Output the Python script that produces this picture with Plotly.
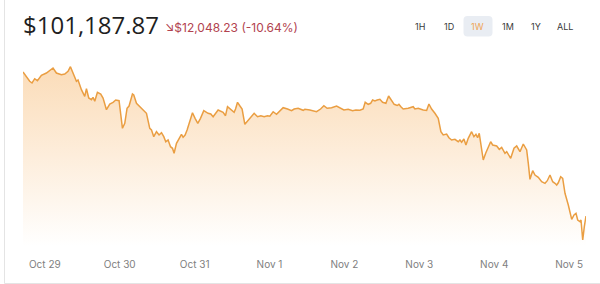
import plotly.graph_objects as go
import pandas as pd

# ---- data ----
hours_from_oct29 = [
    -6.99, -4.84, -4.10, -3.24, -2.37, -1.09, 0.51, 1.57, 2.63, 3.72,
    5.32, 6.38, 7.44, 8.21, 9.04, 10.13, 10.64, 11.73, 12.79, 13.34,
    14.07, 14.94, 15.45, 16.00, 16.86, 17.92, 18.66, 19.75, 20.81, 21.86,
    22.73, 23.79, 24.88, 25.62, 26.35, 26.99, 28.08, 28.50, 29.37, 30.43,
    31.48, 32.57, 33.63, 34.18, 34.91, 35.78, 36.61, 37.38, 38.12, 38.76,
    39.50, 40.27, 40.91, 41.42, 42.19, 43.02, 43.79, 44.31, 44.95, 45.59,
    46.45, 47.32, 48.15, 49.02, 49.88, 50.94, 52.32, 53.18, 53.93, 55.53,
    57.13, 57.90, 58.54, 59.82, 60.66, 61.11, 61.75, 62.48, 63.22, 64.09,
    65.15, 66.24, 67.07, 68.16, 69.22, 70.28, 71.37, 72.10, 73.16, 74.25,
    75.31, 76.37, 77.78, 79.06, 79.89, 81.17, 82.78, 83.32, 84.93, 87.07,
    88.36, 89.41, 90.47, 91.88, 93.49, 94.54, 95.83, 97.21, 98.62, 99.67,
    100.96, 102.01, 102.66, 103.62, 104.39, 105.03, 105.77, 106.50, 107.37, 108.23,
    109.29, 110.16, 111.12, 111.95, 112.91, 113.46, 114.10, 114.84, 116.44, 118.04,
    118.59, 119.65, 121.25, 122.34, 123.08, 123.94, 125.00, 126.06, 126.92, 127.66,
    128.75, 129.49, 130.35, 131.41, 132.47, 133.01, 133.56, 134.29, 134.94, 135.67,
    136.76, 137.50, 138.14, 138.69, 139.20, 139.97, 140.49, 141.26, 142.09, 142.86,
    143.50, 144.79, 145.62, 146.39, 147.45, 148.00, 149.28, 150.34, 151.20, 152.26,
    153.31, 154.40, 154.92, 155.46, 156.33, 157.06, 158.12, 159.21, 160.27, 161.01,
    161.87, 162.74, 163.47, 164.02, 164.53, 165.30, 165.94, 166.68, 167.74, 168.83,
    169.57, 170.21, 170.75, 171.49, 171.81, 172.36, 172.87, 173.41,
]
prices = [
    113236, 112458, 112316, 112675, 112508, 112960, 113152, 113345, 113571, 113152,
    113010, 113069, 113295, 113679, 113152, 112458, 112567, 111755, 111203, 111839,
    111061, 110918, 111119, 110784, 111537, 111395, 111061, 110082, 110559, 110701,
    110893, 110835, 108525, 108944, 110199, 110391, 111395, 111312, 110617, 110333,
    110115, 109780, 108525, 108383, 107823, 108241, 107965, 108157, 107823, 107404,
    107546, 106986, 106852, 106434, 107270, 107689, 108023, 107772, 107965, 108383,
    109220, 109831, 109362, 108944, 109362, 109998, 109780, 109722, 109496, 110057,
    109864, 109580, 110333, 110057, 109864, 110140, 110701, 110416, 110140, 108860,
    109220, 109496, 109780, 109496, 109580, 109496, 109580, 109538, 109914, 109697,
    109973, 110249, 110140, 109998, 110140, 110199, 110031, 110115, 110057, 109914,
    110140, 110416, 110199, 110249, 110391, 110249, 110057, 110115, 109998, 110057,
    110031, 110140, 110701, 110533, 110617, 110893, 110810, 110893, 110952, 110701,
    110617, 111228, 110810, 110533, 110433, 110533, 110333, 110140, 110199, 110333,
    110140, 110199, 110057, 110015, 110559, 110140, 109780, 109362, 108241, 107965,
    108048, 107739, 107546, 107605, 107404, 107546, 107354, 107630, 107128, 107689,
    108241, 107823, 108023, 107739, 108107, 106710, 105873, 106434, 106986, 107404,
    107128, 107044, 106768, 106935, 106434, 106567, 106015, 106852, 107044, 106567,
    107212, 106710, 105597, 104258, 104978, 104618, 104425, 104057, 103923, 104141,
    104618, 104057, 103923, 103781, 103965, 104476, 104342, 103087, 102108, 100911,
    101271, 101413, 100853, 100711, 100853, 99179, 100292, 101188,
]
tick_days = ["2025-10-29", "2025-10-30", "2025-10-31", "2025-11-01",
             "2025-11-02", "2025-11-03", "2025-11-04", "2025-11-05"]
tick_labels = ["Oct 29", "Oct 30", "Oct 31", "Nov 1", "Nov 2", "Nov 3", "Nov 4", "Nov 5"]
price_text = "$101,187.87"
change_text = "↘$12,048.23 (-10.64%)"
ranges = ["1H", "1D", "1W", "1M", "1Y", "ALL"]
active_range = "1W"

# ---- figure geometry ----
W, H = 600, 284
ML, MR, MT, MB = 23, 14, 50, 34
PW, PH = W - ML - MR, H - MT - MB


def px_x(x):
    return (x - ML) / PW


def px_y(y):
    return (H - MB - y) / PH


times = pd.Timestamp("2025-10-29") + pd.to_timedelta(hours_from_oct29, unit="h")

y_lo, y_hi = 98343, 115077

fig = go.Figure()
fig.add_trace(go.Scatter(
    x=times, y=prices, mode="lines",
    line=dict(color="#EA9E42", width=1.5),
    fill="tozeroy",
    fillgradient=dict(type="vertical",
                      colorscale=[[0, "rgba(255,255,255,1)"],
                                  [1, "rgba(251,220,184,1)"]],
                      start=y_lo + 300, stop=max(prices)),
    hoverinfo="skip",
))

fig.update_layout(
    width=W, height=H,
    margin=dict(l=ML, r=MR, t=MT, b=MB, pad=0),
    paper_bgcolor="white", plot_bgcolor="white",
    showlegend=False,
    hovermode=False,
    font=dict(family="Inter, sans-serif"),
    xaxis=dict(range=[times[0], times[-1]], showgrid=False, zeroline=False,
               showline=False, ticks="",
               tickvals=pd.to_datetime(tick_days), ticktext=tick_labels,
               tickfont=dict(size=10, color="#808080", family="Inter"),
               ticklabelstandoff=7, fixedrange=True),
    yaxis=dict(range=[y_lo, y_hi], visible=False, fixedrange=True),
)

shapes = [
    # card border (left and bottom edges)
    dict(type="line", xref="paper", yref="paper",
         x0=px_x(4.5), x1=px_x(4.5), y0=px_y(-5), y1=px_y(283.5),
         line=dict(color="#e4e4e4", width=1), layer="below"),
    dict(type="line", xref="paper", yref="paper",
         x0=px_x(4.5), x1=px_x(605), y0=px_y(283.5), y1=px_y(283.5),
         line=dict(color="#e4e4e4", width=1), layer="below"),
]

# highlighted range button background (rounded)
bx0, bx1, by0, by1, r = 463.5, 492.5, 16, 36.5, 4
path = (f"M {px_x(bx0 + r)},{px_y(by0)} L {px_x(bx1 - r)},{px_y(by0)} "
        f"Q {px_x(bx1)},{px_y(by0)} {px_x(bx1)},{px_y(by0 + r)} "
        f"L {px_x(bx1)},{px_y(by1 - r)} "
        f"Q {px_x(bx1)},{px_y(by1)} {px_x(bx1 - r)},{px_y(by1)} "
        f"L {px_x(bx0 + r)},{px_y(by1)} "
        f"Q {px_x(bx0)},{px_y(by1)} {px_x(bx0)},{px_y(by1 - r)} "
        f"L {px_x(bx0)},{px_y(by0 + r)} "
        f"Q {px_x(bx0)},{px_y(by0)} {px_x(bx0 + r)},{px_y(by0)} Z")
shapes.append(dict(type="path", xref="paper", yref="paper", path=path,
                   fillcolor="#e9edf3", line=dict(width=0)))
fig.update_layout(shapes=shapes)

annotations = [
    dict(text=price_text, x=px_x(21), y=px_y(24.5), xref="paper", yref="paper",
         xanchor="left", yanchor="middle", showarrow=False,
         font=dict(size=24, color="#1f1f1f", family="Open Sans")),
    dict(text=change_text, x=px_x(163), y=px_y(27.5), xref="paper", yref="paper",
         xanchor="left", yanchor="middle", showarrow=False,
         font=dict(size=12, color="#b2434f", family="Inter")),
]
btn_x = [419.5, 448.5, 478, 507.5, 536, 565]
for lab, bx in zip(ranges, btn_x):
    annotations.append(dict(
        text=lab, x=px_x(bx), y=px_y(26.5), xref="paper", yref="paper",
        xanchor="center", yanchor="middle", showarrow=False,
        font=dict(size=9, family="Inter",
                  color="#EFA556" if lab == active_range else "#3a3a3a")))
fig.update_layout(annotations=annotations)

fig.write_html("out.html")
